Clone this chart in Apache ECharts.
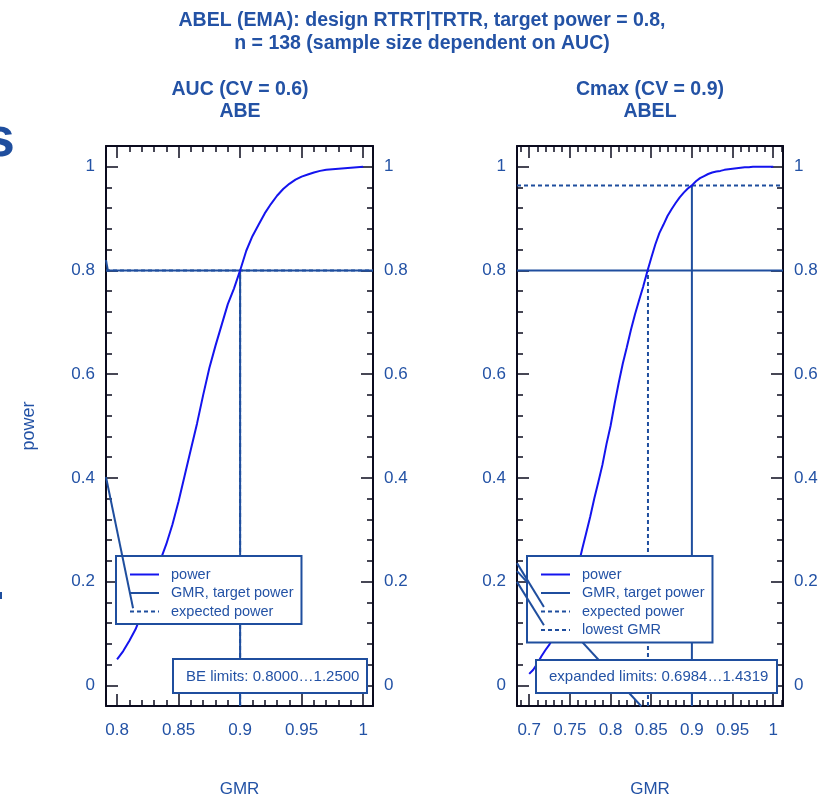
<!DOCTYPE html>
<html lang="en">
  <head>
    <meta charset="UTF-8" />
    <title>ABEL (EMA) power</title>
    <style>
      * {
        margin: 0;
        padding: 0;
      }
      html,
      body {
        width: 100%;
        height: 100%;
        background: #fff;
      }
      #chart {
        width: 823px;
        height: 799px;
      }
    </style>
    <script src="https://cdn.jsdelivr.net/npm/echarts@6/dist/echarts.min.js"></script>
  </head>
  <body>
    <div id="chart"></div>
    <script>
      // AUC, CV = 0.6 (ABE)
      var aucGmr = [
        0.8, 0.805, 0.81, 0.815, 0.82, 0.825, 0.83, 0.835, 0.84, 0.845, 0.85,
        0.855, 0.86, 0.865, 0.87, 0.875, 0.88, 0.885, 0.89, 0.895, 0.9, 0.905,
        0.91, 0.915, 0.92, 0.925, 0.93, 0.935, 0.94, 0.945, 0.95, 0.955, 0.96,
        0.965, 0.97, 0.975, 0.98, 0.985, 0.99, 0.995, 1.0,
      ];
      var aucPower = [
        0.05, 0.066, 0.086, 0.108, 0.137, 0.17, 0.205, 0.24, 0.272, 0.31, 0.355,
        0.405, 0.455, 0.505, 0.56, 0.612, 0.655, 0.695, 0.735, 0.765, 0.8,
        0.838, 0.866, 0.888, 0.91, 0.928, 0.944, 0.957, 0.967, 0.975, 0.981,
        0.985, 0.989, 0.992, 0.994, 0.995, 0.996, 0.997, 0.998, 0.999, 1.0,
      ];
      // Cmax, CV = 0.9 (ABEL)
      var cmaxGmr = [
        0.7, 0.705, 0.71, 0.715, 0.72, 0.725, 0.73, 0.735, 0.74, 0.745, 0.75,
        0.755, 0.76, 0.765, 0.77, 0.775, 0.78, 0.785, 0.79, 0.795, 0.8, 0.805,
        0.81, 0.815, 0.82, 0.825, 0.83, 0.835, 0.84, 0.845, 0.85, 0.855, 0.86,
        0.865, 0.87, 0.875, 0.88, 0.885, 0.89, 0.895, 0.9, 0.905, 0.91, 0.915,
        0.92, 0.925, 0.93, 0.935, 0.94, 0.945, 0.95, 0.955, 0.96, 0.965, 0.97,
        0.975, 0.98, 0.985, 0.99, 0.995, 1.0,
      ];
      var cmaxPower = [
        0.022, 0.03, 0.042, 0.056, 0.068, 0.079, 0.092, 0.108, 0.126, 0.145,
        0.168, 0.195, 0.228, 0.262, 0.293, 0.325, 0.36, 0.392, 0.425, 0.465,
        0.5, 0.543, 0.583, 0.62, 0.652, 0.685, 0.715, 0.742, 0.768, 0.797,
        0.824, 0.85, 0.872, 0.888, 0.905, 0.918, 0.93, 0.941, 0.95, 0.958,
        0.964, 0.972, 0.978, 0.982, 0.986, 0.989, 0.991, 0.992, 0.994, 0.995,
        0.996, 0.997, 0.998, 0.999, 0.999, 1.0, 1.0, 1.0, 1.0, 1.0, 1.0,
      ];

      var targetPower = 0.8;
      var targetGmr = 0.9;
      var cmaxExpectedPower = 0.964;
      var cmaxLowestGmr = 0.846;

      var aucRange = [0.791, 1.008];
      var cmaxRange = [0.685, 1.012];
      var powerRange = [-0.04, 1.04];

      // stray legend segments left over in the original figure
      var aucStray = [
        [[0.791, 0.4015], [0.813, 0.1486]],
        [[0.791, 0.82], [0.7925, 0.8]],
      ];
      var cmaxStrayTop = [
        [[0.685, 0.2355], [0.7181, 0.1511]],
        [[0.685, 0.1994], [0.7181, 0.1158]],
      ];
      var cmaxStrayLong = [[0.685, 0.22], [0.8378, -0.0405]];

      var legendAuc = ["power", "GMR, target power", "expected power"];
      var legendCmax = [
        "power",
        "GMR, target power",
        "expected power",
        "lowest GMR",
      ];

      var textBlue = "#2352a5";
      var lineBlue = "#1f4e9e";
      var curveBlue = "#1414ee";
      var frame = "#0b0b1e";
      var font = "'Liberation Sans', Arial, sans-serif";

      function pairs(xs, ys) {
        return xs.map(function (x, i) {
          return [x, ys[i]];
        });
      }

      function line(name, grid, data, color, dotted, z) {
        return {
          name: name,
          type: "line",
          xAxisIndex: grid * 2,
          yAxisIndex: grid * 2,
          data: data,
          symbol: "none",
          silent: true,
          z: z || 2,
          lineStyle: {
            color: color,
            width: 2,
            type: dotted ? [4, 3] : "solid",
          },
          itemStyle: { color: color },
        };
      }

      function xAxes(grid, range, withName) {
        var base = {
          type: "value",
          gridIndex: grid,
          min: range[0],
          max: range[1],
          splitNumber: 5,
          splitLine: { show: false },
          axisLine: { onZero: false, lineStyle: { color: frame, width: 2 } },
          axisTick: {
            inside: true,
            length: 12,
            lineStyle: { color: frame, width: 1.5 },
          },
          minorTick: {
            show: true,
            splitNumber: 5,
            length: 6,
            lineStyle: { color: frame, width: 1.5 },
          },
        };
        var bottom = Object.assign({}, base, {
          position: "bottom",
          axisLabel: {
            color: textBlue,
            fontSize: 17,
            fontFamily: font,
            margin: 16,
            showMinLabel: false,
            showMaxLabel: false,
          },
          name: withName,
          nameLocation: "middle",
          nameGap: 75,
          nameTextStyle: { color: textBlue, fontSize: 17, fontFamily: font },
        });
        var top = Object.assign({}, base, {
          position: "top",
          axisLabel: { show: false },
        });
        return [bottom, top];
      }

      function yAxes(grid, yName) {
        var base = {
          type: "value",
          gridIndex: grid,
          min: powerRange[0],
          max: powerRange[1],
          splitNumber: 5,
          splitLine: { show: false },
          axisLine: { onZero: false, lineStyle: { color: frame, width: 2 } },
          axisTick: {
            inside: true,
            length: 12,
            lineStyle: { color: frame, width: 1.5 },
          },
          minorTick: {
            show: true,
            splitNumber: 5,
            length: 6,
            lineStyle: { color: frame, width: 1.5 },
          },
          axisLabel: {
            color: textBlue,
            fontSize: 17,
            fontFamily: font,
            margin: 11,
            showMinLabel: false,
            showMaxLabel: false,
          },
        };
        var left = Object.assign({}, base, {
          position: "left",
          name: yName,
          nameLocation: "middle",
          nameGap: 68,
          nameTextStyle: { color: textBlue, fontSize: 18, fontFamily: font },
        });
        var right = Object.assign({}, base, { position: "right" });
        return [left, right];
      }

      function legend(names, left) {
        return {
          data: names,
          orient: "vertical",
          left: left,
          top: 556,
          z: 5,
          selectedMode: false,
          backgroundColor: "#fff",
          borderColor: lineBlue,
          borderWidth: 2,
          borderRadius: 0,
          padding: [11, 8, 5, 13],
          itemWidth: 29,
          itemHeight: 14,
          itemGap: 3.5,
          itemStyle: { opacity: 0 },
          textStyle: {
            color: textBlue,
            fontSize: 14.5,
            lineHeight: 14,
            fontFamily: font,
            padding: [0, 0, 0, 7],
          },
        };
      }

      function limitsBox(text, left, top, padding) {
        return {
          text: text,
          left: left,
          top: top,
          padding: padding,
          z: 5,
          backgroundColor: "#fff",
          borderColor: lineBlue,
          borderWidth: 2,
          textStyle: {
            color: textBlue,
            fontSize: 15,
            fontWeight: "normal",
            fontFamily: font,
            lineHeight: 15,
          },
        };
      }

      var series = [
        // AUC panel
        line("expected power", 0, [[aucRange[0], targetPower], [aucRange[1], targetPower]], lineBlue, true),
        line("expected power", 0, [[targetGmr, powerRange[0]], [targetGmr, targetPower]], lineBlue, true),
        line("GMR, target power", 0, [[aucRange[0], targetPower], [aucRange[1], targetPower]], lineBlue),
        line("GMR, target power", 0, [[targetGmr, powerRange[0]], [targetGmr, targetPower]], lineBlue),
        line("power", 0, pairs(aucGmr, aucPower), curveBlue),
        // Cmax panel
        line("GMR, target power", 1, [[cmaxRange[0], targetPower], [cmaxRange[1], targetPower]], lineBlue),
        line("GMR, target power", 1, [[targetGmr, powerRange[0]], [targetGmr, cmaxExpectedPower]], lineBlue),
        line("expected power", 1, [[cmaxRange[0], cmaxExpectedPower], [cmaxRange[1], cmaxExpectedPower]], lineBlue, true),
        line("lowest GMR", 1, [[cmaxLowestGmr, powerRange[0]], [cmaxLowestGmr, targetPower]], lineBlue, true),
        line("power", 1, pairs(cmaxGmr, cmaxPower), curveBlue),
        line("stray", 1, cmaxStrayLong, lineBlue),
      ];
      aucStray.forEach(function (seg) {
        series.push(line("stray", 0, seg, lineBlue, false, 10));
      });
      cmaxStrayTop.forEach(function (seg) {
        series.push(line("stray", 1, seg, lineBlue, false, 10));
      });

      var option = {
        animation: false,
        backgroundColor: "#fff",
        textStyle: { fontFamily: font },
        title: [
          limitsBox("BE limits: 0.8000\u20261.2500", 173, 659, [10, 8, 9, 13]),
          limitsBox("expanded limits: 0.6984\u20261.4319", 536, 660, [9, 9, 9, 13]),
        ],
        legend: [legend(legendAuc, 116), legend(legendCmax, 527)],
        grid: [
          { left: 106, top: 146, width: 267, height: 560, outerBoundsMode: "none" },
          { left: 517, top: 146, width: 266, height: 560, outerBoundsMode: "none" },
        ],
        xAxis: xAxes(0, aucRange, "GMR").concat(xAxes(1, cmaxRange, "GMR")),
        yAxis: yAxes(0, "power").concat(yAxes(1, "")),
        graphic: [
          {
            type: "text",
            x: 422,
            y: 9,
            style: {
              text: "ABEL (EMA): design RTRT|TRTR, target power = 0.8,\nn = 138 (sample size dependent on AUC)",
              fill: textBlue,
              font: "bold 19.5px " + font,
              lineHeight: 23,
              textAlign: "center",
              textVerticalAlign: "top",
            },
          },
          {
            type: "text",
            x: 240,
            y: 79,
            style: {
              text: "AUC (CV = 0.6)\nABE",
              fill: textBlue,
              font: "bold 19.5px " + font,
              lineHeight: 22,
              textAlign: "center",
              textVerticalAlign: "top",
            },
          },
          {
            type: "text",
            x: 650,
            y: 79,
            style: {
              text: "Cmax (CV = 0.9)\nABEL",
              fill: textBlue,
              font: "bold 19.5px " + font,
              lineHeight: 22,
              textAlign: "center",
              textVerticalAlign: "top",
            },
          },
          {
            type: "text",
            x: 15,
            y: 169,
            style: {
              text: "s",
              fill: lineBlue,
              font: "bold 56px " + font,
              textAlign: "right",
              textVerticalAlign: "bottom",
            },
          },
          {
            type: "rect",
            shape: { x: 0, y: 592, width: 2, height: 7 },
            style: { fill: lineBlue },
          },
        ],
        series: series,
      };

      var myChart = echarts.init(document.getElementById("chart"));
      myChart.setOption(option);
    </script>
  </body>
</html>
